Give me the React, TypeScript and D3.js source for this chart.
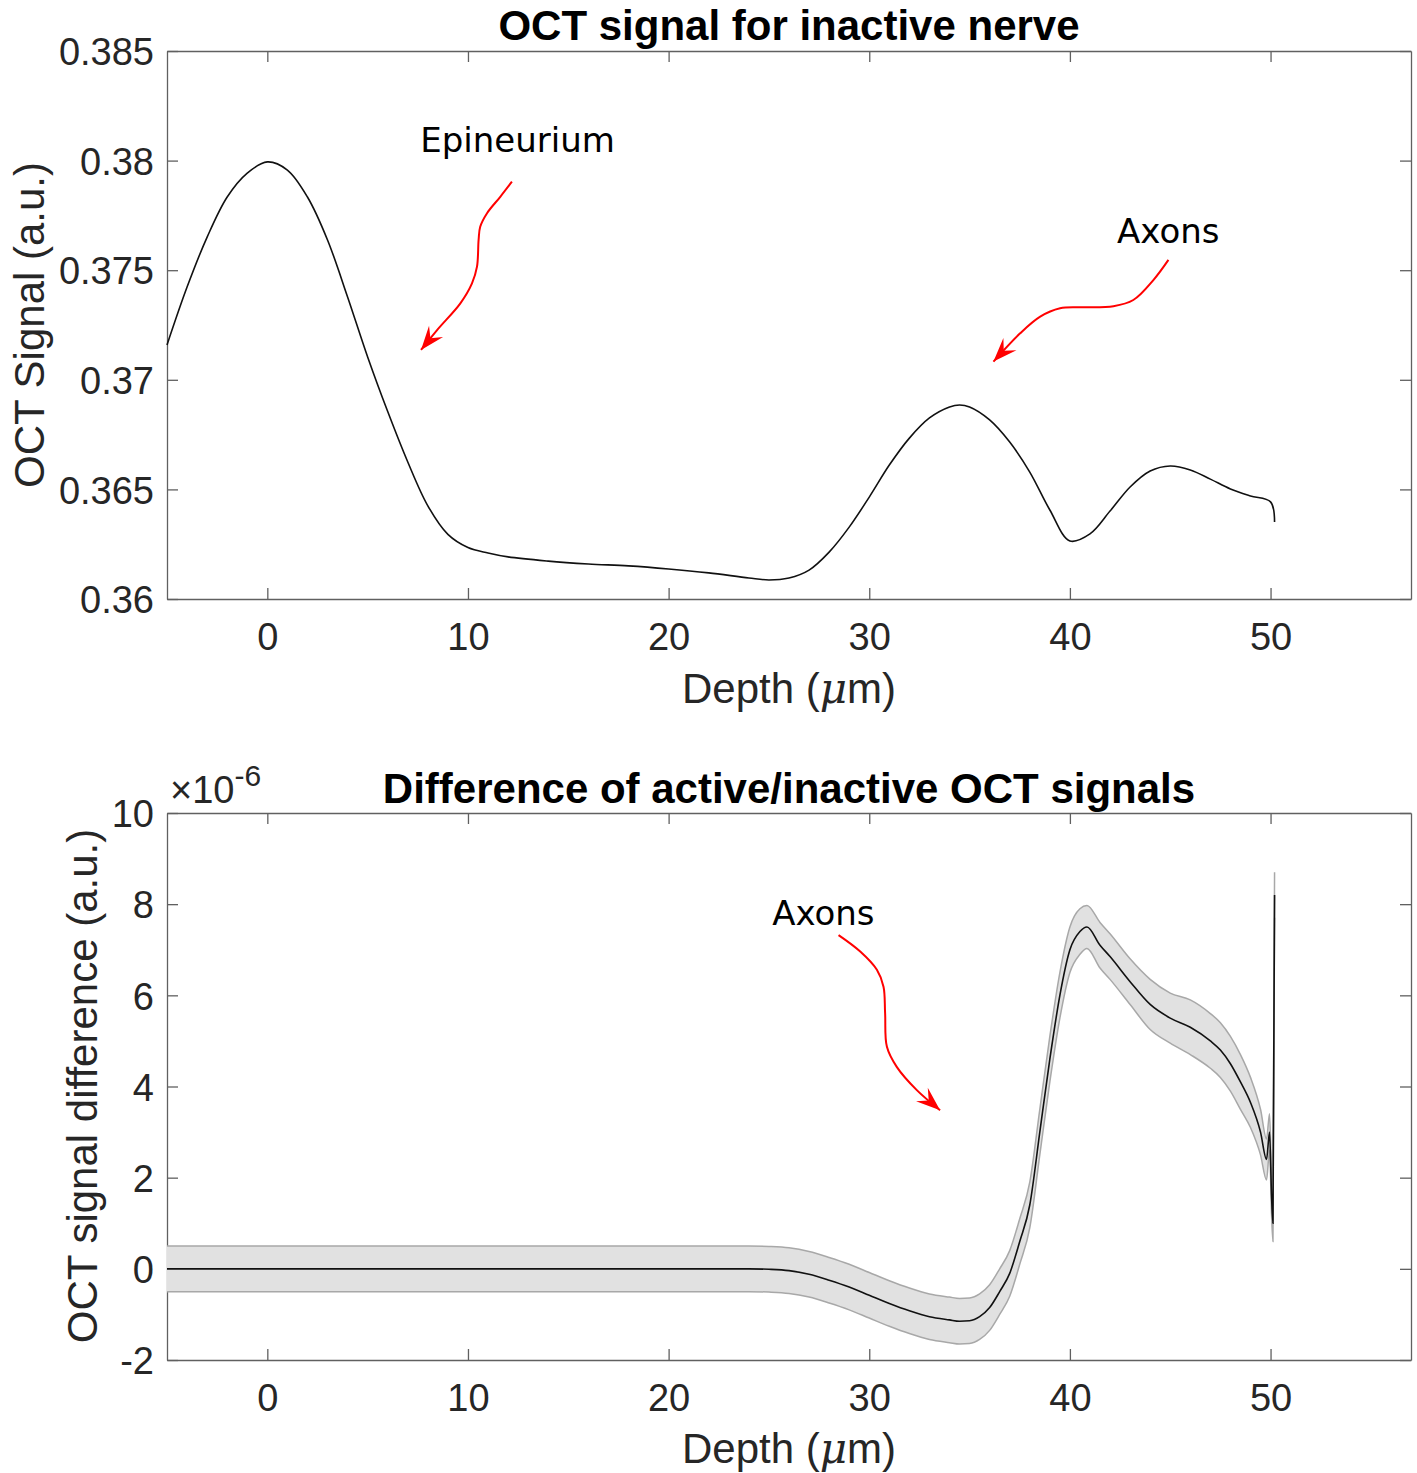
import React, { useRef, useEffect } from "react";
import * as d3 from "d3";

// top panel: OCT signal, inactive nerve
const depthTop = [-5, -4, -3, -2, -1, 0, 1, 2, 3, 4, 5, 6, 7, 8, 9, 10, 11, 12, 14, 16, 18, 20, 22, 24, 25, 26, 27, 28, 29, 30, 31, 32, 33, 34, 34.5, 35, 36, 37, 38, 39, 40, 41, 42, 43, 44, 45, 46, 47, 48, 49, 50, 50.2];
const signalTop = [0.37159, 0.37423, 0.37651, 0.37834, 0.37943, 0.37994, 0.37957, 0.37834, 0.37638, 0.37378, 0.37104, 0.36855, 0.36625, 0.36425, 0.36295, 0.36235, 0.3621, 0.36192, 0.36173, 0.3616, 0.36151, 0.36137, 0.36119, 0.36096, 0.36087, 0.36096, 0.36132, 0.36214, 0.36328, 0.36465, 0.36611, 0.36734, 0.36826, 0.36876, 0.36885, 0.36876, 0.36817, 0.36716, 0.36579, 0.36406, 0.36265, 0.36297, 0.36401, 0.36511, 0.36584, 0.36607, 0.36589, 0.36547, 0.36502, 0.3647, 0.36443, 0.36351];

// bottom panel: difference active - inactive (x1e-6), with spread
const depthDiff = [-5, 0, 5, 10, 15, 20, 24, 25, 26, 27, 28, 29, 30, 31, 32, 33, 34, 34.5, 35, 35.5, 36, 36.5, 37, 37.5, 38, 38.5, 39, 39.5, 40, 40.5, 40.85, 41.5, 42, 43, 44, 45, 46, 47, 47.5, 48, 48.5, 49, 49.5, 49.8, 49.95, 50.05, 50.12, 50.2];
const signalDiff = [0, 0, 0, 0, 0, 0, 0, -0.01, -0.04, -0.12, -0.25, -0.4, -0.58, -0.76, -0.92, -1.05, -1.12, -1.15, -1.14, -1.05, -0.85, -0.5, -0.1, 0.6, 1.4, 3.0, 4.6, 6.0, 7.0, 7.4, 7.5, 7.1, 6.85, 6.3, 5.8, 5.5, 5.3, 5.0, 4.8, 4.5, 4.1, 3.65, 3.0, 2.4, 3.0, 1.6, 1.0, 8.2];
const diffSpread = [0.5, 0.5, 0.5, 0.5, 0.5, 0.5, 0.5, 0.5, 0.5, 0.5, 0.5, 0.5, 0.5, 0.5, 0.5, 0.5, 0.5, 0.5, 0.5, 0.5, 0.5, 0.5, 0.5, 0.5, 0.5, 0.5, 0.5, 0.5, 0.5, 0.5, 0.47, 0.5, 0.5, 0.5, 0.55, 0.55, 0.6, 0.6, 0.6, 0.6, 0.6, 0.55, 0.5, 0.45, 0.4, 0.4, 0.4, 0.5];

const xTicks = [0, 10, 20, 30, 40, 50];
const yTicksTop = [0.36, 0.365, 0.37, 0.375, 0.38, 0.385];
const yTicksDiff = [-2, 0, 2, 4, 6, 8, 10];

// annotation arrows, in data units of their panel
const epiArrowX = [12.19, 11.61, 10.95, 10.61, 10.53, 10.45, 10.2, 9.62, 8.46, 7.66];
const epiArrowY = [0.37904, 0.37835, 0.3776, 0.37698, 0.37638, 0.37516, 0.3744, 0.37349, 0.37227, 0.37136];
const axTopArrowX = [44.91, 44.16, 43.16, 42.17, 40.51, 39.51, 38.52, 37.52, 36.19];
const axTopArrowY = [0.37547, 0.37455, 0.37364, 0.37336, 0.37331, 0.37326, 0.37288, 0.37212, 0.37083];
const axBotArrowX = [28.47, 29.55, 30.38, 30.71, 30.79, 30.88, 31.37, 32.37, 33.53];
const axBotArrowY = [7.32, 6.96, 6.56, 6.19, 5.61, 4.87, 4.43, 3.92, 3.48];

const W = 1417;
const H = 1473;
const left = 167;
const right = 1411;
const FONT = "'Liberation Sans', Arial, Helvetica, sans-serif";
const ANNO_FONT = "'DejaVu Sans', Verdana, sans-serif";

export default function App() {
  const svgRef = useRef<SVGSVGElement>(null);

  useEffect(() => {
    const svg = d3.select(svgRef.current);
    svg.selectAll("*").remove();

    const x = d3.scaleLinear().domain([-5, 57]).range([left, right]);
    const yTop = d3.scaleLinear().domain([0.36, 0.385]).range([599, 51]);
    const yBot = d3.scaleLinear().domain([-2, 10]).range([1360, 813]);

    function drawFrame(y: d3.ScaleLinear<number, number>, yTicks: number[], fmt: (d: number) => string) {
      const [y0, y1] = y.range();
      const g = svg.append("g");
      const styleAxis = (a: any) => {
        a.select(".domain").attr("stroke", "#606060").attr("stroke-width", 1.3);
        a.selectAll(".tick line").attr("stroke", "#606060").attr("stroke-width", 1.3);
        a.selectAll(".tick text").attr("fill", "#262626").style("font-family", FONT).style("font-size", "38px");
      };
      const bottom = g.append("g").attr("transform", `translate(0,${y0})`)
        .call(d3.axisBottom(x).tickValues(xTicks).tickSizeInner(-11).tickSizeOuter(0).tickPadding(24).tickFormat((d) => String(d)));
      styleAxis(bottom);
      const top = g.append("g").attr("transform", `translate(0,${y1})`)
        .call(d3.axisTop(x).tickValues(xTicks).tickSizeInner(-11).tickSizeOuter(0).tickFormat(() => ""));
      styleAxis(top);
      const leftAx = g.append("g").attr("transform", `translate(${left},0)`)
        .call(d3.axisLeft(y).tickValues(yTicks).tickSizeInner(-11).tickSizeOuter(0).tickPadding(13).tickFormat((d) => fmt(d as number)));
      styleAxis(leftAx);
      leftAx.selectAll(".tick text").attr("dy", "0.36em");
      const rightAx = g.append("g").attr("transform", `translate(${right},0)`)
        .call(d3.axisRight(y).tickValues(yTicks).tickSizeInner(-11).tickSizeOuter(0).tickFormat(() => ""));
      styleAxis(rightAx);
    }

    function drawArrow(xs: number[], ys: number[], y: d3.ScaleLinear<number, number>) {
      const pts: [number, number][] = xs.map((v, i) => [x(v), y(ys[i])]);
      const line = d3.line().curve(d3.curveCatmullRom.alpha(0.5));
      svg.append("path").attr("d", line(pts)).attr("fill", "none").attr("stroke", "#ff0000").attr("stroke-width", 2);
      const [tx, ty] = pts[pts.length - 1];
      const [px, py] = pts[pts.length - 2];
      const ang = Math.atan2(ty - py, tx - px);
      const L = 24, Wd = 9, N = 15;
      const ux = Math.cos(ang), uy = Math.sin(ang);
      const nx = -uy, ny = ux;
      const head = [
        [tx, ty],
        [tx - L * ux + Wd * nx, ty - L * uy + Wd * ny],
        [tx - N * ux, ty - N * uy],
        [tx - L * ux - Wd * nx, ty - L * uy - Wd * ny],
      ];
      svg.append("path").attr("d", "M" + head.map((p) => p.join(",")).join("L") + "Z").attr("fill", "#ff0000");
    }

    // ---- top panel
    drawFrame(yTop, yTicksTop, (d) => String(+d.toFixed(3)));
    const topLine = d3.line<number>().x((d) => x(d)).y((d, i) => yTop(signalTop[i])).curve(d3.curveCatmullRom.alpha(0.5));
    svg.append("path").attr("d", topLine(depthTop)).attr("fill", "none").attr("stroke", "#111").attr("stroke-width", 1.6);

    svg.append("text").attr("x", (left + right) / 2).attr("y", 40).attr("text-anchor", "middle")
      .style("font-family", FONT).style("font-size", "42px").style("font-weight", "bold").text("OCT signal for inactive nerve");
    svg.append("text").attr("x", (left + right) / 2).attr("y", 703).attr("text-anchor", "middle").attr("fill", "#262626")
      .style("font-family", FONT).style("font-size", "42px")
      .html("Depth (<tspan font-style='italic' font-family='DejaVu Serif, serif'>μ</tspan>m)");
    svg.append("text").attr("transform", `translate(44,325) rotate(-90)`).attr("text-anchor", "middle").attr("fill", "#262626")
      .style("font-family", FONT).style("font-size", "42px").text("OCT Signal (a.u.)");

    svg.append("text").attr("x", x(7.62)).attr("y", yTop(0.38041))
      .style("font-family", ANNO_FONT).style("font-size", "34px").text("Epineurium");
    svg.append("text").attr("x", x(42.35)).attr("y", yTop(0.37624))
      .style("font-family", ANNO_FONT).style("font-size", "34px").text("Axons");
    drawArrow(epiArrowX, epiArrowY, yTop);
    drawArrow(axTopArrowX, axTopArrowY, yTop);

    // ---- bottom panel
    drawFrame(yBot, yTicksDiff, (d) => String(d));
    const band = d3.area<number>().x((d) => x(d))
      .y0((d, i) => yBot(signalDiff[i] - diffSpread[i]))
      .y1((d, i) => yBot(signalDiff[i] + diffSpread[i]))
      .curve(d3.curveMonotoneX);
    svg.append("path").attr("d", band(depthDiff)).attr("fill", "#e1e1e1").attr("stroke", "none");
    const edge = (s: number) => d3.line<number>().x((d) => x(d)).y((d, i) => yBot(signalDiff[i] + s * diffSpread[i])).curve(d3.curveMonotoneX);
    [1, -1].forEach((s) => {
      svg.append("path").attr("d", edge(s)(depthDiff)).attr("fill", "none").attr("stroke", "#a8a8a8").attr("stroke-width", 1.5);
    });
    svg.append("path").attr("d", edge(0)(depthDiff)).attr("fill", "none").attr("stroke", "#111").attr("stroke-width", 1.6);

    svg.append("text").attr("x", (left + right) / 2).attr("y", 803).attr("text-anchor", "middle")
      .style("font-family", FONT).style("font-size", "42px").style("font-weight", "bold").text("Difference of active/inactive OCT signals");
    const mult = svg.append("text").attr("x", 170).attr("y", 803).attr("fill", "#262626")
      .style("font-family", FONT).style("font-size", "38px");
    mult.append("tspan").text("×10");
    mult.append("tspan").attr("dy", -17).style("font-size", "30px").text("-6");
    svg.append("text").attr("x", (left + right) / 2).attr("y", 1463).attr("text-anchor", "middle").attr("fill", "#262626")
      .style("font-family", FONT).style("font-size", "42px")
      .html("Depth (<tspan font-style='italic' font-family='DejaVu Serif, serif'>μ</tspan>m)");
    svg.append("text").attr("transform", `translate(97,1086) rotate(-90)`).attr("text-anchor", "middle").attr("fill", "#262626")
      .style("font-family", FONT).style("font-size", "42px").text("OCT signal difference (a.u.)");

    svg.append("text").attr("x", x(25.16)).attr("y", yBot(7.54))
      .style("font-family", ANNO_FONT).style("font-size", "34px").text("Axons");
    drawArrow(axBotArrowX, axBotArrowY, yBot);
  }, []);

  return (
    <svg ref={svgRef} width={W} height={H} style={{ position: "absolute", left: 0, top: 0, background: "#fff" }} />
  );
}
